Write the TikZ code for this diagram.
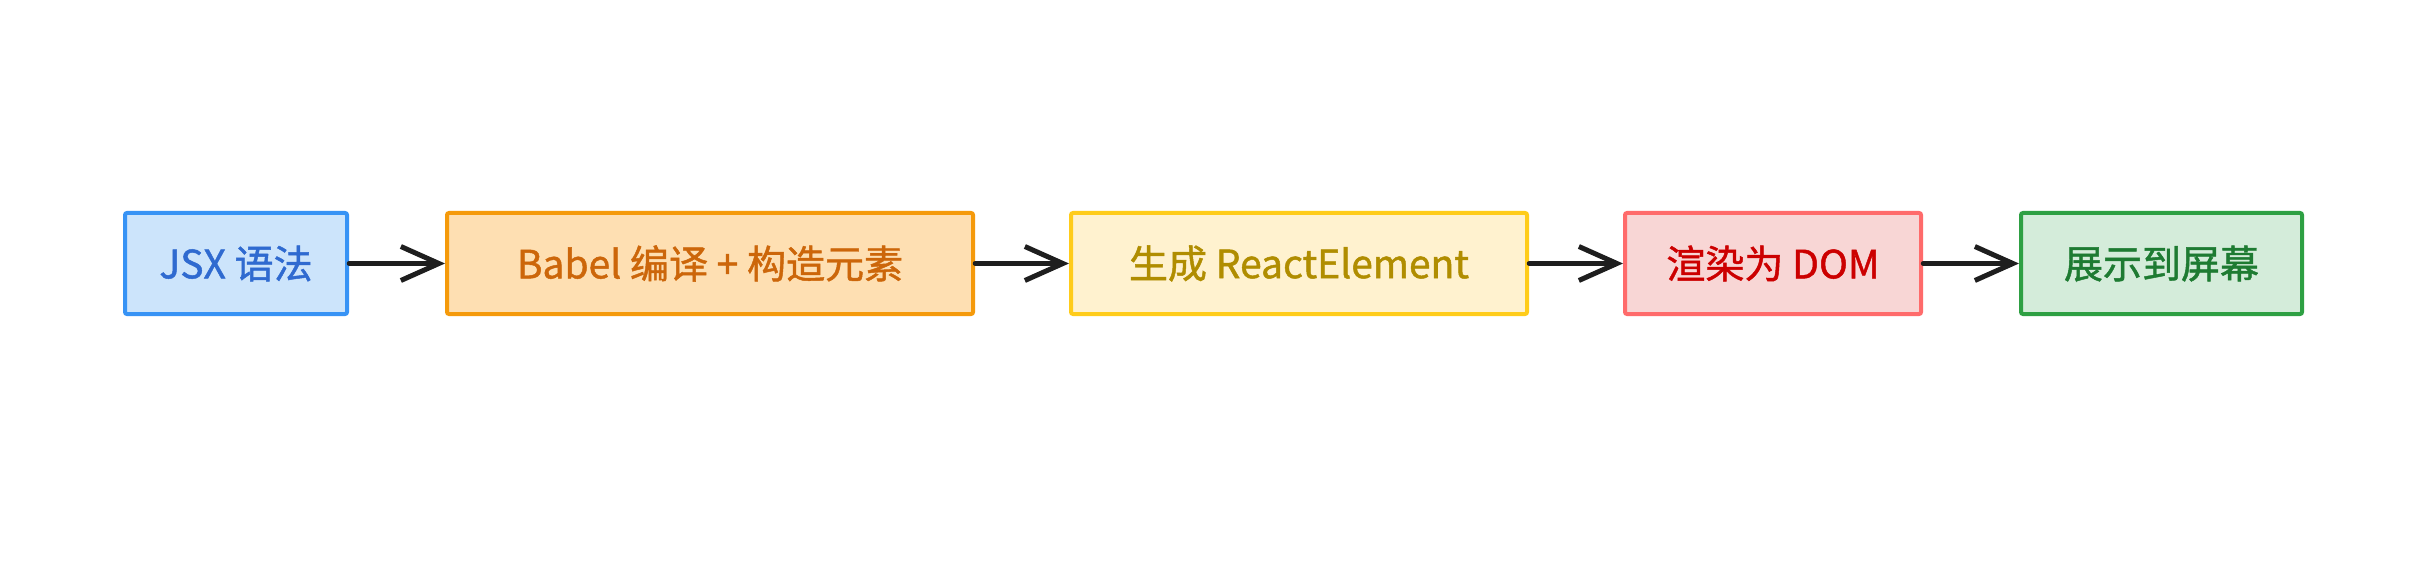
\documentclass[tikz,border=0pt]{standalone}
\usepackage{fontspec}
\usepackage{tikz}
\usetikzlibrary{arrows.meta}
\newfontfamily\cjk[FakeBold=1.2]{Noto Sans CJK SC}
\definecolor{blueline}{HTML}{3793F5}
\definecolor{bluefill}{HTML}{CCE4FB}
\definecolor{bluetext}{HTML}{2F6AD0}
\definecolor{orangeline}{HTML}{F59A0B}
\definecolor{orangefill}{HTML}{FEDFB2}
\definecolor{orangetext}{HTML}{CC660A}
\definecolor{yellowline}{HTML}{FFCC1A}
\definecolor{yellowfill}{HTML}{FFF2CF}
\definecolor{yellowtext}{HTML}{B08D00}
\definecolor{redline}{HTML}{FF6B6B}
\definecolor{redfill}{HTML}{F8D6D5}
\definecolor{redtext}{HTML}{CC0000}
\definecolor{greenline}{HTML}{2EA043}
\definecolor{greenfill}{HTML}{D4ECDA}
\definecolor{greentext}{HTML}{1E7B32}
\definecolor{arrowink}{HTML}{1E1E1E}
\tikzset{
  flownode/.style = {align=center, inner sep=0pt, text centered, minimum height=101pt, line width=4pt, rounded corners=2pt, font=\cjk\fontsize{39}{46}\selectfont},
  fn_b/.style = {flownode, draw=blueline, fill=bluefill, text=bluetext},
  fn_o/.style = {flownode, draw=orangeline, fill=orangefill, text=orangetext},
  fn_y/.style = {flownode, draw=yellowline, fill=yellowfill, text=yellowtext},
  fn_r/.style = {flownode, draw=redline, fill=redfill, text=redtext},
  fn_g/.style = {flownode, draw=greenline, fill=greenfill, text=greentext},
  flowarrow/.style = {draw=arrowink, line width=4.5pt, line cap=round, -{Straight Barb[length=38pt, width=34pt, line width=5pt]}},
}

\begin{document}
\begin{tikzpicture}[x=1pt, y=-1pt]
  \useasboundingbox (0,0) rectangle (2426,564);
  \node [fn_b, minimum width=222pt] (jsx) at (236,263.5) {JSX 语法};
  \node [fn_o, minimum width=526pt] (babel) at (710,263.5) {Babel 编译 + 构造元素};
  \node [fn_y, minimum width=456pt] (elem) at (1299,263.5) {生成 ReactElement};
  \node [fn_r, minimum width=296pt] (dom) at (1773,263.5) {渲染为 DOM};
  \node [fn_g, minimum width=281pt] (screen) at (2161.5,263.5) {展示到屏幕};
  \draw [flowarrow] (jsx) -- (babel);
  \draw [flowarrow] (babel) -- (elem);
  \draw [flowarrow] (elem) -- (dom);
  \draw [flowarrow] (dom) -- (screen);
\end{tikzpicture}
\end{document}
